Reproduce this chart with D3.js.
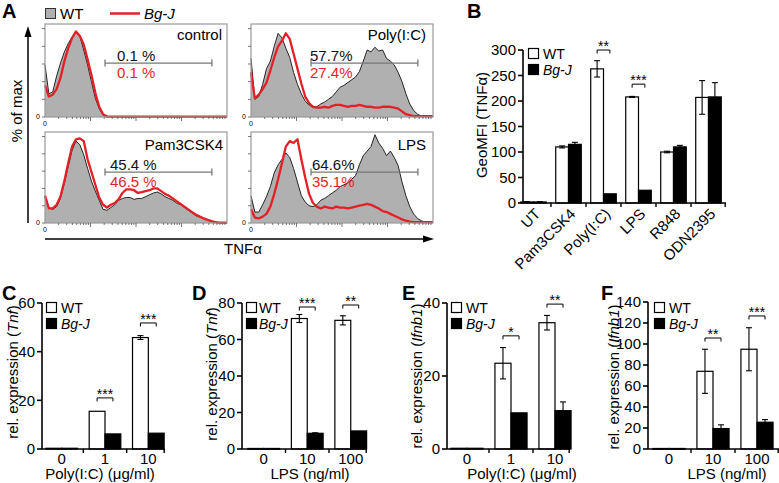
<!DOCTYPE html>
<html><head><meta charset="utf-8">
<script src="https://cdn.jsdelivr.net/npm/d3@7"></script>
<style>
body{margin:0;background:#fff;}
svg{font-family:"Liberation Sans",Arial,Helvetica,sans-serif;}
</style></head><body>
<svg id="c" width="779" height="483"></svg>
<script>
// ===== Panel A: TNFα flow histograms (48 bins along TNFα, fraction of box height) =====
const histPanels = ["control", "Poly(I:C)", "Pam3CSK4", "LPS"];
const wtControl = [.56,.25,.27,.44,.58,.70,.79,.86,.91,.87,.72,.56,.38,.20,.09,.02,0,0,0,0,0,0,0,0,0,0,0,0,0,0,0,0,0,0,0,0,0,0,0,0,0,0,0,0,0,0,0,0];
const bgjControl = [.34,.22,.24,.30,.42,.60,.74,.85,.92,.87,.78,.62,.45,.26,.11,.03,.005,.005,.005,.005,.005,.005,.005,.005,.005,.005,.005,.005,.005,.005,.005,.005,.005,.005,.005,.005,.005,.005,.005,.005,.005,.005,.005,.005,.005,.005,.005,.005];
const wtPoly = [.63,.19,.22,.35,.52,.60,.76,.90,.85,.74,.64,.48,.35,.25,.17,.13,.10,.11,.14,.16,.19,.22,.27,.32,.34,.37,.40,.43,.49,.60,.72,.70,.75,.71,.72,.63,.60,.56,.48,.38,.25,.14,.07,.03,.01,.005,.005,.005];
const bgjPoly = [.48,.20,.24,.30,.37,.50,.64,.76,.82,.90,.84,.68,.52,.36,.22,.15,.11,.10,.10,.11,.10,.12,.13,.13,.12,.11,.12,.12,.13,.12,.11,.11,.10,.10,.11,.11,.11,.10,.09,.06,.03,.02,.01,.01,.01,.01,.01,.01];
const wtPam = [.29,.17,.15,.18,.27,.44,.62,.80,.90,.86,.75,.60,.46,.35,.25,.15,.14,.17,.20,.25,.27,.28,.28,.26,.27,.27,.29,.31,.33,.34,.32,.29,.27,.25,.22,.20,.17,.14,.11,.08,.065,.05,.035,.02,.01,.005,.003,.003];
const bgjPam = [.30,.16,.16,.20,.29,.46,.66,.84,.92,.93,.90,.70,.56,.42,.28,.20,.17,.20,.22,.26,.33,.37,.37,.36,.33,.34,.35,.36,.38,.38,.35,.32,.30,.27,.24,.21,.18,.15,.12,.09,.07,.05,.035,.02,.01,.005,.003,.003];
const wtLPS = [.30,.12,.12,.20,.29,.40,.55,.64,.70,.77,.72,.60,.45,.30,.23,.19,.18,.20,.25,.27,.30,.33,.36,.40,.42,.44,.48,.52,.64,.74,.79,.84,.97,.88,.82,.74,.79,.72,.63,.45,.30,.18,.10,.05,.025,.01,.005,.005];
const bgjLPS = [.15,.06,.05,.07,.10,.18,.32,.48,.66,.84,.90,.88,.92,.70,.50,.32,.22,.18,.16,.18,.17,.16,.18,.17,.17,.16,.17,.18,.19,.20,.21,.20,.18,.16,.13,.12,.10,.08,.06,.04,.025,.015,.01,.01,.01,.01,.01,.01];
const gatePctWT = ["0.1 %", "57.7%", "45.4 %", "64.6%"];
const gatePctBgJ = ["0.1 %", "27.4%", "46.5 %", "35.1%"];
const gateBins = [15.5, 43.1];
const gateLevel = [0.58, 0.58, 0.56, 0.56];

// ===== Panel B: GeoMFI (TNFα) =====
const bCategories = ["UT", "Pam3CSK4", "Poly(I:C)", "LPS", "R848", "ODN2395"];
const bWT = [2, 110, 263, 208, 100, 207];
const bWTerr = [0.5, 2, 16, 1, 1.5, 33];
const bBgJ = [2, 115, 18, 25, 110, 208];
const bBgJerr = [0.5, 4, 0, 0, 3, 28];
const bSig = [null, null, "**", "***", null, null];
const bSigLevel = [null, null, 300, 233, null, null];
const bTicks = [0, 50, 100, 150, 200, 250, 300];

// ===== Panel C: Tnf, Poly(I:C) =====
const cCategories = ["0", "1", "10"];
const cWT = [0.3, 15.5, 45.8];
const cWTerr = [0, 0, 0.8];
const cBgJ = [0.3, 6.2, 6.5];
const cBgJerr = [0, 0, 0];
const cSig = [null, "***", "***"];
const cSigLevel = [null, 21, 51.8];
const cTicks = [0, 20, 40, 60];

// ===== Panel D: Tnf, LPS =====
const dCategories = ["0", "10", "100"];
const dWT = [0.3, 71.5, 70.5];
const dWTerr = [0, 2.2, 2.5];
const dBgJ = [0.3, 8.6, 9.9];
const dBgJerr = [0, 0.3, 0];
const dSig = [null, "***", "**"];
const dSigLevel = [null, 77.8, 78.9];
const dTicks = [0, 20, 40, 60, 80];

// ===== Panel E: Ifnb1, Poly(I:C) =====
const eCategories = ["0", "1", "10"];
const eWT = [0.2, 23.5, 34.6];
const eWTerr = [0, 4.3, 2];
const eBgJ = [0.2, 9.9, 10.5];
const eBgJerr = [0, 0, 2.4];
const eSig = [null, "*", "**"];
const eSigLevel = [null, 31, 39.7];
const eTicks = [0, 20, 40];

// ===== Panel F: Ifnb1, LPS =====
const fCategories = ["0", "10", "100"];
const fWT = [0.5, 74, 95];
const fWTerr = [0, 21, 20.5];
const fBgJ = [0.5, 19.5, 25.5];
const fBgJerr = [0, 3.5, 2.5];
const fSig = [null, "**", "***"];
const fSigLevel = [null, 105.7, 126.7];
const fTicks = [0, 20, 40, 60, 80, 100, 120, 140];

// ================= drawing =================
const svg = d3.select("#c");
const RED = "#e41f26";
const FS = 15;
const LFS = 14;

[["A",2,18],["B",467,18],["C",2,300],["D",192,300],["E",402,300],["F",601,300]].forEach(([t,x,y]) =>
  svg.append("text").attr("x",x).attr("y",y).attr("font-size",20).attr("font-weight","bold").text(t));

// ---- Panel A ----
const hWT = [wtControl, wtPoly, wtPam, wtLPS];
const hBgJ = [bgjControl, bgjPoly, bgjPam, bgjLPS];
const boxes = [
  {x:45, y:24, w:182, h:93, tx:117, lx:222, ly:40},
  {x:251, y:24, w:182, h:93, tx:310, lx:426, ly:40},
  {x:45, y:132, w:182, h:91, tx:110, lx:223, ly:150},
  {x:251, y:132, w:182, h:91, tx:312, lx:426, ly:150}
];
boxes.forEach((b, i) => {
  const g = svg.append("g");
  const n = hWT[i].length;
  const x = d3.scaleLinear().domain([0, n - 1]).range([b.x, b.x + b.w]);
  const y = d3.scaleLinear().domain([0, 1]).range([b.y + b.h, b.y]);
  const area = d3.area().x((d, j) => x(j)).y0(y(0)).y1(d => y(d));
  const line = d3.line().x((d, j) => x(j)).y(d => y(d));
  g.append("path").datum(hWT[i]).attr("d", area).attr("fill", "#b0b0b0");
  g.append("path").datum(hWT[i]).attr("d", line).attr("fill", "none").attr("stroke", "#111").attr("stroke-width", 0.9);
  g.append("path").datum(hBgJ[i]).attr("d", line).attr("fill", "none").attr("stroke", RED).attr("stroke-width", 2.3).attr("stroke-linejoin", "round");
  g.append("rect").attr("x", b.x).attr("y", b.y).attr("width", b.w).attr("height", b.h)
    .attr("fill", "none").attr("stroke", "#9a9a9a").attr("stroke-width", 1.2);
  d3.range(6).forEach(k => {
    const yy = y(k * 0.19);
    g.append("line").attr("x1", b.x - 3).attr("x2", b.x).attr("y1", yy).attr("y2", yy).attr("stroke", "#555").attr("stroke-width", 0.8);
  });
  const dw = b.w / 4;
  for (let k = 0; k < 4; k++) {
    for (let m = 1; m <= 9; m++) {
      if (m === 1 && k === 0) continue;
      const xx = b.x + (k + Math.log10(m)) * dw;
      const len = (m === 1) ? 4 : 2;
      g.append("line").attr("x1", xx).attr("x2", xx).attr("y1", b.y + b.h).attr("y2", b.y + b.h + len).attr("stroke", "#555").attr("stroke-width", 0.8);
    }
  }
  g.append("text").attr("x", b.x - 5).attr("y", b.y + b.h + 2).attr("font-size", 7).attr("fill", "#000").attr("text-anchor", "end").text("0");
  g.append("text").attr("x", b.x).attr("y", b.y + b.h + 9).attr("font-size", 7).attr("fill", "#000").attr("text-anchor", "middle").text("0");
  const gy = y(gateLevel[i]);
  const gx1 = x(gateBins[0]), gx2 = x(gateBins[1]);
  g.append("line").attr("x1", gx1).attr("x2", gx2).attr("y1", gy).attr("y2", gy).attr("stroke", "#777").attr("stroke-width", 1.3);
  [gx1, gx2].forEach(xx => g.append("line").attr("x1", xx).attr("x2", xx).attr("y1", gy - 3.5).attr("y2", gy + 3.5).attr("stroke", "#777").attr("stroke-width", 1.3));
  g.append("text").attr("x", b.tx).attr("y", gy - 2).attr("font-size", FS).attr("fill", "#111").text(gatePctWT[i]);
  g.append("text").attr("x", b.tx).attr("y", gy + 15).attr("font-size", FS).attr("fill", RED).text(gatePctBgJ[i]);
  g.append("text").attr("x", b.lx).attr("y", b.ly).attr("font-size", FS).attr("text-anchor", "end").text(histPanels[i]);
});
svg.append("line").attr("x1", 28).attr("x2", 28).attr("y1", 223).attr("y2", 34).attr("stroke", "#000").attr("stroke-width", 1.5);
svg.append("path").attr("d", "M28,26 L24.5,37 L31.5,37 Z").attr("fill", "#000");
svg.append("line").attr("x1", 45).attr("x2", 426).attr("y1", 239).attr("y2", 239).attr("stroke", "#000").attr("stroke-width", 1.5);
svg.append("path").attr("d", "M434,239 L423,235.5 L423,242.5 Z").attr("fill", "#000");
svg.append("text").attr("transform", "translate(22,111) rotate(-90)").attr("font-size", FS).attr("text-anchor", "middle").text("% of max");
svg.append("text").attr("x", 243).attr("y", 254).attr("font-size", FS).attr("text-anchor", "middle").text("TNFα");
svg.append("rect").attr("x", 45.5).attr("y", 8.5).attr("width", 10).attr("height", 10).attr("fill", "#b0b0b0").attr("stroke", "#333").attr("stroke-width", 1);
svg.append("text").attr("x", 60).attr("y", 18.5).attr("font-size", FS).text("WT");
svg.append("line").attr("x1", 110).attr("x2", 140).attr("y1", 13.5).attr("y2", 13.5).attr("stroke", RED).attr("stroke-width", 2.5);
svg.append("text").attr("x", 144).attr("y", 18.5).attr("font-size", FS).attr("font-style", "italic").text("Bg-J");

// ---- bar panels ----
function barPanel(o) {
  const g = svg.append("g");
  const x0 = d3.scaleBand().domain(o.cats).range(o.range).paddingInner(0.27).paddingOuter(0.135);
  const x1 = d3.scaleBand().domain(["WT", "BgJ"]).range([0, x0.bandwidth()]);
  const y = d3.scaleLinear().domain([0, o.ticks[o.ticks.length - 1]]).range(o.yRange);
  g.append("rect").attr("x", o.leg[0] + 0.5).attr("y", o.leg[1] + 0.5).attr("width", 10).attr("height", 10).attr("fill", "#fff").attr("stroke", "#000").attr("stroke-width", 1.2);
  g.append("text").attr("x", o.leg[0] + o.legDx).attr("y", o.leg[1] + 10.5).attr("font-size", LFS).text("WT");
  g.append("rect").attr("x", o.leg[0] + 0.5).attr("y", o.leg[1] + 16.5).attr("width", 10).attr("height", 10).attr("fill", "#000").attr("stroke", "#000").attr("stroke-width", 1.2);
  g.append("text").attr("x", o.leg[0] + o.legDx).attr("y", o.leg[1] + 26.5).attr("font-size", LFS).attr("font-style", "italic").text("Bg-J");
  const series = [["WT", o.wt, o.wtErr, "#fff"], ["BgJ", o.bgj, o.bgjErr, "#000"]];
  series.forEach(([key, vals, errs, fill]) => {
    o.cats.forEach((c, i) => {
      const bx = x0(c) + x1(key), bw = x1.bandwidth();
      const cx = bx + bw / 2;
      g.append("rect").attr("x", bx).attr("y", y(vals[i])).attr("width", bw).attr("height", Math.max(0.8, y(0) - y(vals[i])))
        .attr("fill", fill).attr("stroke", "#000").attr("stroke-width", 1.2);
      if (errs[i] > 0) {
        const hi = y(vals[i] + errs[i]), lo = y(Math.max(0, vals[i] - errs[i]));
        g.append("line").attr("x1", cx).attr("x2", cx).attr("y1", hi).attr("y2", lo).attr("stroke", "#000").attr("stroke-width", 1.1);
        g.append("line").attr("x1", cx - 3).attr("x2", cx + 3).attr("y1", hi).attr("y2", hi).attr("stroke", "#000").attr("stroke-width", 1.1);
        g.append("line").attr("x1", cx - 3).attr("x2", cx + 3).attr("y1", lo).attr("y2", lo).attr("stroke", "#000").attr("stroke-width", 1.1);
      }
    });
  });
  o.cats.forEach((c, i) => {
    if (!o.sig[i]) return;
    const xa = x0(c) + x1("WT") + x1.bandwidth() / 2;
    const xb = x0(c) + x1("BgJ") + x1.bandwidth() / 2;
    const yy = y(o.sigLevel[i]);
    g.append("path").attr("d", `M${xa},${yy + 3.5}V${yy}H${xb}V${yy + 3.5}`).attr("fill", "none").attr("stroke", "#000").attr("stroke-width", 1);
    g.append("text").attr("x", (xa + xb) / 2).attr("y", yy + 1).attr("font-size", 14).attr("text-anchor", "middle").text(o.sig[i]);
  });
  const y0px = y(0);
  g.append("line").attr("x1", o.axisX).attr("x2", o.axisX).attr("y1", y0px).attr("y2", y(o.ticks[o.ticks.length - 1])).attr("stroke", "#000").attr("stroke-width", 1.6);
  o.ticks.forEach(t => {
    g.append("line").attr("x1", o.axisX - 5).attr("x2", o.axisX).attr("y1", y(t)).attr("y2", y(t)).attr("stroke", "#000").attr("stroke-width", 1.6);
    g.append("text").attr("x", o.axisX - 7).attr("y", y(t)).attr("dy", "0.36em").attr("font-size", FS).attr("text-anchor", "end").text(t);
  });
  g.append("line").attr("x1", o.axisX).attr("x2", o.axisEnd).attr("y1", y0px).attr("y2", y0px).attr("stroke", "#000").attr("stroke-width", 1.6);
  const stp = x0.step();
  o.cats.forEach((c, i) => {
    const bx = Math.min(x0(c) + x0.bandwidth() + stp * 0.135, o.axisEnd - 0.8);
    g.append("line").attr("x1", bx).attr("x2", bx).attr("y1", y0px).attr("y2", y0px + 4).attr("stroke", "#000").attr("stroke-width", 1.4);
    const cx = x0(c) + x0.bandwidth() / 2;
    if (o.rotate) {
      g.append("text").attr("transform", `translate(${cx + 4},${y0px + 8}) rotate(-45)`).attr("dy", "0.36em").attr("font-size", FS).attr("text-anchor", "end").text(c);
    } else {
      g.append("text").attr("x", cx).attr("y", y0px + 14.5).attr("font-size", FS).attr("text-anchor", "middle").text(c);
    }
  });
  const yl = g.append("text").attr("transform", `translate(${o.ylab[0]},${o.ylab[1]}) rotate(-90)`).attr("font-size", FS).attr("text-anchor", "middle");
  o.ylabParts.forEach(([t, it]) => yl.append("tspan").attr("font-style", it ? "italic" : null).text(t));
  if (o.xlab) g.append("text").attr("x", o.xlab[0]).attr("y", o.xlab[1]).attr("font-size", FS).attr("text-anchor", "middle").text(o.xlab[2]);
}

barPanel({cats:bCategories, wt:bWT, wtErr:bWTerr, bgj:bBgJ, bgjErr:bBgJerr, sig:bSig, sigLevel:bSigLevel, ticks:bTicks,
  range:[516,726], yRange:[203,50], axisX:523, axisEnd:726, leg:[528,48], legDx:15, rotate:true,
  ylab:[487,125], ylabParts:[["GeoMFI (TNFα)", false]]});
barPanel({cats:cCategories, wt:cWT, wtErr:cWTerr, bgj:cBgJ, bgjErr:cBgJerr, sig:cSig, sigLevel:cSigLevel, ticks:cTicks,
  range:[40,170], yRange:[449,303], axisX:42, axisEnd:165, leg:[46,302], legDx:15,
  ylab:[18,372], ylabParts:[["rel. expression (", false], ["Tnf", true], [")", false]], xlab:[100,479,"Poly(I:C) (μg/ml)"]});
barPanel({cats:dCategories, wt:dWT, wtErr:dWTerr, bgj:dBgJ, bgjErr:dBgJerr, sig:dSig, sigLevel:dSigLevel, ticks:dTicks,
  range:[242,372.5], yRange:[449,303], axisX:242, axisEnd:367, leg:[246,302], legDx:13,
  ylab:[217,374], ylabParts:[["rel. expression (", false], ["Tnf", true], [")", false]], xlab:[310,479,"LPS (ng/ml)"]});
barPanel({cats:eCategories, wt:eWT, wtErr:eWTerr, bgj:eBgJ, bgjErr:eBgJerr, sig:eSig, sigLevel:eSigLevel, ticks:eTicks,
  range:[445,577], yRange:[449,303], axisX:447, axisEnd:570, leg:[451,302], legDx:15,
  ylab:[422,376], ylabParts:[["rel. expression (", false], ["Ifnb1", true], [")", false]], xlab:[522,479,"Poly(I:C) (μg/ml)"]});
barPanel({cats:fCategories, wt:fWT, wtErr:fWTerr, bgj:fBgJ, bgjErr:fBgJerr, sig:fSig, sigLevel:fSigLevel, ticks:fTicks,
  range:[647,779], yRange:[449,302], axisX:648, axisEnd:779, leg:[654,302], legDx:15,
  ylab:[619,377], ylabParts:[["rel. expression (", false], ["Ifnb1", true], [")", false]], xlab:[727,479,"LPS (ng/ml)"]});
</script>
</body></html>
